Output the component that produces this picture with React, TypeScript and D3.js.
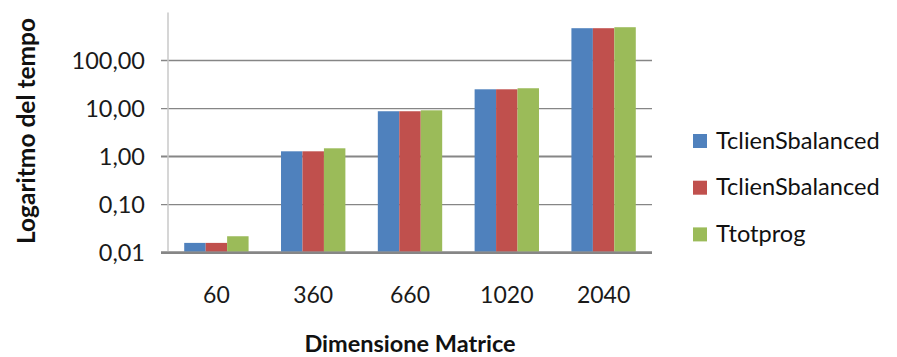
import React from "react";
import * as d3 from "d3";

const categories = ["60", "360", "660", "1020", "2040"];
const seriesNames = ["TclienSbalanced", "TclienSbalanced", "Ttotprog"];
const seriesColors = ["#4F81BD", "#C0504D", "#9BBB59"];
const blueValues = [0.016, 1.29, 8.8, 25.2, 471];
const redValues = [0.016, 1.29, 8.8, 25.2, 471];
const greenValues = [0.022, 1.49, 9.2, 26.5, 494];
const yTicks = [0.01, 0.1, 1, 10, 100];
const yTickLabels = ["0,01", "0,10", "1,00", "10,00", "100,00"];
const yTitle = "Logaritmo del tempo";
const xTitle = "Dimensione Matrice";

const W = 897;
const H = 357;
const FONT = "Lato, 'Open Sans', sans-serif";

export default function App() {
  const series = [blueValues, redValues, greenValues];
  const left = 168;
  const right = 652;
  const top = 12.5;
  const bottom = 252.7;

  const x = d3.scaleBand<string>().domain(categories).range([left, right]).paddingInner(0.335).paddingOuter(0.1675);
  const xs = d3.scaleBand<number>().domain([0, 1, 2]).range([0, x.bandwidth()]);
  const y = d3.scaleLog().domain([0.01, 1000]).range([bottom, top]);

  return (
    <svg width={W} height={H} style={{ position: "absolute", left: 0, top: 0, background: "#fff" }} fontFamily={FONT}>
      <rect x={0} y={0} width={W} height={H} fill="#fff" />
      {yTicks.map((t, i) => (
        <line key={"g" + i} x1={161} x2={right} y1={y(t)} y2={y(t)} stroke="#868686" strokeWidth={i === 0 ? 2.5 : i === 2 ? 2 : 1.4} />
      ))}
      <line x1={left} x2={left} y1={top} y2={bottom} stroke="#c8c8c8" strokeWidth={1.5} />
      {series.map((vals, si) =>
        vals.map((v, ci) => {
          const bx = (x(categories[ci]) as number) + (xs(si) as number);
          const by = y(v);
          return (
            <rect key={si + "-" + ci} x={bx} y={by} width={xs.bandwidth()} height={bottom - 1 - by} fill={seriesColors[si]} />
          );
        })
      )}
      <line x1={161} x2={right} y1={bottom} y2={bottom} stroke="#868686" strokeWidth={2.5} />
      {yTicks.map((t, i) => (
        <text key={"yl" + i} x={145} y={y(t)} dy="0.36em" textAnchor="end" fontSize={23.5} fill="#1a1a1a">
          {yTickLabels[i]}
        </text>
      ))}
      {categories.map((c) => (
        <text key={"xl" + c} x={(x(c) as number) + x.bandwidth() / 2} y={303} textAnchor="middle" fontSize={23} fill="#1a1a1a">
          {c}
        </text>
      ))}
      <text x={410} y={352} textAnchor="middle" fontSize={23.5} fontWeight="bold" fill="#111">
        {xTitle}
      </text>
      <text transform={`translate(35,131) rotate(-90)`} textAnchor="middle" fontSize={24.5} fontWeight="bold" fill="#111">
        {yTitle}
      </text>
      {seriesNames.map((n, i) => (
        <g key={"lg" + i} transform={`translate(693,${134 + i * 46.7})`}>
          <rect x={0} y={0} width={14} height={14} fill={seriesColors[i]} />
          <text x={23} y={14.5} fontSize={23.6} fill="#111">
            {n}
          </text>
        </g>
      ))}
    </svg>
  );
}
